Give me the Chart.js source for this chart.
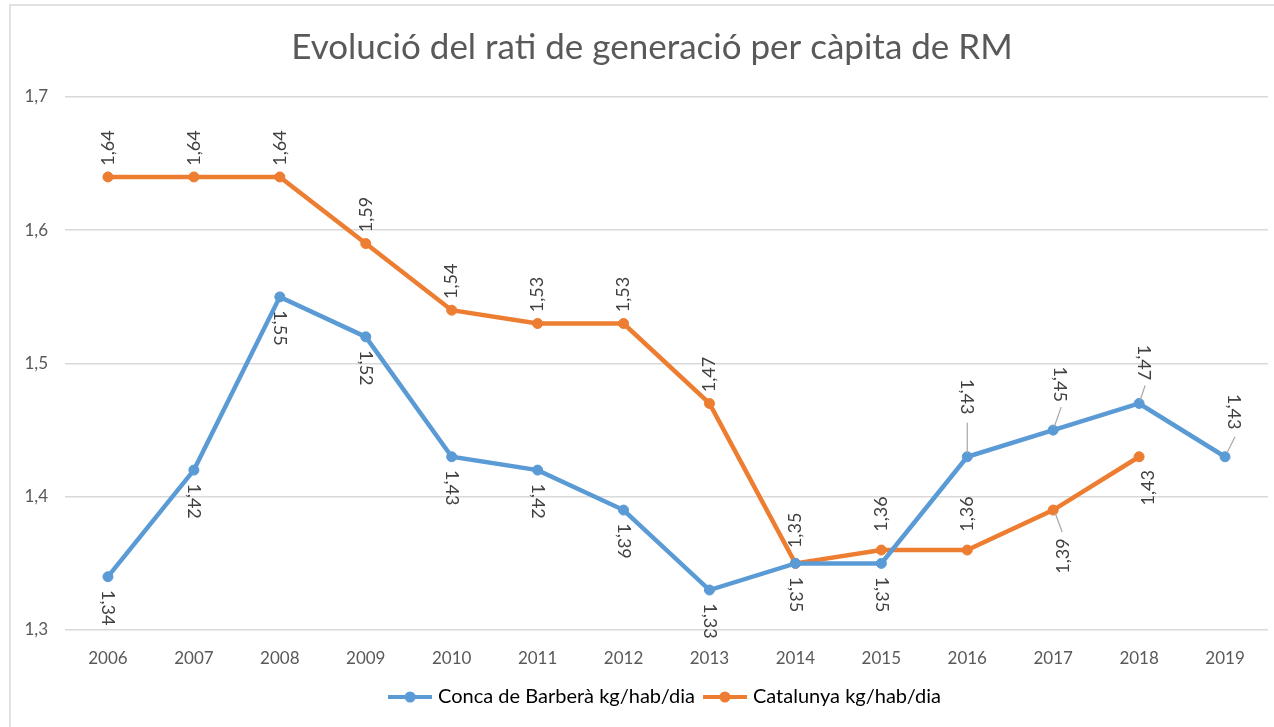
<!DOCTYPE html>
<html>
<head>
<meta charset="utf-8">
<script src="https://cdn.jsdelivr.net/npm/chart.js@4"></script>
<style>
  html, body { margin: 0; padding: 0; background: #fff; }
  #wrap { width: 1274px; height: 727px; }
</style>
</head>
<body>
<div id="wrap"><canvas id="rm-chart" width="1274" height="727"></canvas></div>
<script>
// values
const years = ['2006', '2007', '2008', '2009', '2010', '2011', '2012', '2013', '2014', '2015', '2016', '2017', '2018', '2019'];
const concaValues = [1.34, 1.42, 1.55, 1.52, 1.43, 1.42, 1.39, 1.33, 1.35, 1.35, 1.43, 1.45, 1.47, 1.43];
const catalunyaValues = [1.64, 1.64, 1.64, 1.59, 1.54, 1.53, 1.53, 1.47, 1.35, 1.36, 1.36, 1.39, 1.43, null];
const yTicks = [1.3, 1.4, 1.5, 1.6, 1.7];
const seriesNames = ['Conca de Barberà kg/hab/dia', 'Catalunya kg/hab/dia'];
const chartTitle = 'Evolució del rati de generació per càpita de RM';

const BLUE = '#5B9BD5';
const ORANGE = '#ED7D31';
const FONT = 'Lato, "Open Sans", sans-serif';

// label placement: offset of label centre from its point, optional leader line
const labelStyle = [
  {
    rotation: Math.PI / 2, dx: 0, dy: 31,
    special: {
      10: { dx: 0, dy: -60, leader: [0, -3, 0, -34] },
      11: { dx: 7, dy: -46, leader: [1, -3, 8, -23] },
      12: { dx: 5, dy: -41, leader: [1, -3, 6, -18] },
      13: { dx: 9, dy: -45, leader: [2, -4, 10, -20] },
    },
  },
  {
    rotation: -Math.PI / 2, dx: 0, dy: -29,
    special: {
      8: { dx: 0, dy: -33 },
      9: { dx: 0, dy: -36 },
      10: { dx: 0, dy: -36 },
      11: { dx: 10, dy: 46, leader: [2, 3, 9, 22] },
      12: { dx: 9, dy: 31 },
    },
  },
];

const fmt = (v) => v.toFixed(2).replace('.', ',');

// outer frame + title (the original picture is cropped on the right,
// so the title sits a little right of the canvas centre)
const frameAndTitle = {
  id: 'frameAndTitle',
  beforeDraw(chart) {
    const { ctx, width, height } = chart;
    ctx.save();
    ctx.fillStyle = '#fff';
    ctx.fillRect(0, 0, width, height);
    ctx.strokeStyle = '#d9d9d9';
    ctx.lineWidth = 1.5;
    ctx.beginPath();
    ctx.moveTo(10, height);
    ctx.lineTo(10, 5);
    ctx.lineTo(width, 5);
    ctx.stroke();
    ctx.fillStyle = '#595959';
    ctx.font = '35px ' + FONT;
    ctx.textAlign = 'center';
    ctx.textBaseline = 'middle';
    ctx.fillText(chartTitle, 652, 47.5);
    ctx.restore();
  },
};

const pointLabels = {
  id: 'pointLabels',
  afterDatasetsDraw(chart) {
    const { ctx } = chart;
    ctx.save();
    ctx.font = '18px ' + FONT;
    ctx.fillStyle = '#404040';
    ctx.textAlign = 'center';
    ctx.textBaseline = 'middle';
    chart.data.datasets.forEach((ds, di) => {
      const st = labelStyle[di];
      chart.getDatasetMeta(di).data.forEach((pt, i) => {
        const v = ds.data[i];
        if (v == null) return;
        const sp = st.special[i] || {};
        const dx = sp.dx ?? st.dx;
        const dy = sp.dy ?? st.dy;
        if (sp.leader) {
          const [x1, y1, x2, y2] = sp.leader;
          ctx.strokeStyle = '#a6a6a6';
          ctx.lineWidth = 1.2;
          ctx.beginPath();
          ctx.moveTo(pt.x + x1, pt.y + y1);
          ctx.lineTo(pt.x + x2, pt.y + y2);
          ctx.stroke();
        }
        ctx.save();
        ctx.translate(pt.x + dx, pt.y + dy);
        ctx.rotate(st.rotation);
        ctx.fillText(fmt(v), 0, 0);
        ctx.restore();
      });
    });
    ctx.restore();
  },
};

function legendMarker(color) {
  const c = document.createElement('canvas');
  c.width = 44;
  c.height = 14;
  const g = c.getContext('2d');
  g.strokeStyle = color;
  g.lineWidth = 4;
  g.beginPath();
  g.moveTo(0, 7);
  g.lineTo(44, 7);
  g.stroke();
  g.fillStyle = color;
  g.beginPath();
  g.arc(22, 7, 5.5, 0, Math.PI * 2);
  g.fill();
  return c;
}

const ctx = document.getElementById('rm-chart').getContext('2d');
new Chart(ctx, {
  type: 'line',
  data: {
    labels: years,
    datasets: [
      {
        label: seriesNames[0],
        data: concaValues,
        borderColor: BLUE,
        backgroundColor: BLUE,
        borderWidth: 4.5,
        pointRadius: 5,
        pointBorderWidth: 1,
        pointStyle: 'circle',
      },
      {
        label: seriesNames[1],
        data: catalunyaValues,
        borderColor: ORANGE,
        backgroundColor: ORANGE,
        borderWidth: 4.5,
        pointRadius: 5,
        pointBorderWidth: 1,
        pointStyle: 'circle',
      },
    ],
  },
  options: {
    responsive: false,
    animation: false,
    devicePixelRatio: 1,
    layout: { padding: { left: 0, right: 3, top: 97, bottom: 10 } },
    plugins: {
      title: { display: false },
      legend: {
        position: 'bottom',
        fullSize: false,
        labels: {
          color: '#595959',
          font: { family: FONT, size: 20 },
          usePointStyle: true,
          pointStyleWidth: 36,
          padding: 12,
          generateLabels(chart) {
            return chart.data.datasets.map((ds, i) => ({
              text: ds.label,
              fillStyle: ds.borderColor,
              strokeStyle: ds.borderColor,
              pointStyle: legendMarker(ds.borderColor),
              lineWidth: 0,
              hidden: false,
              datasetIndex: i,
            }));
          },
        },
      },
      tooltip: { enabled: false },
    },
    scales: {
      x: {
        offset: true,
        grid: { display: false, drawTicks: false },
        border: { display: false },
        ticks: { color: '#595959', font: { family: FONT, size: 17 }, padding: 18, maxRotation: 0 },
        afterFit(s) { s.height = 45; },
      },
      y: {
        min: 1.3,
        max: 1.7,
        afterBuildTicks(s) { s.ticks = yTicks.map((v) => ({ value: v })); },
        grid: { color: '#d9d9d9', lineWidth: 1.5, drawTicks: false },
        border: { display: false },
        ticks: {
          color: '#595959',
          font: { family: FONT, size: 17 },
          padding: 17,
          callback: (v) => String(v).replace('.', ','),
        },
        afterFit(s) { s.width = 65; },
      },
    },
  },
  plugins: [frameAndTitle, pointLabels],
});
</script>
</body>
</html>
